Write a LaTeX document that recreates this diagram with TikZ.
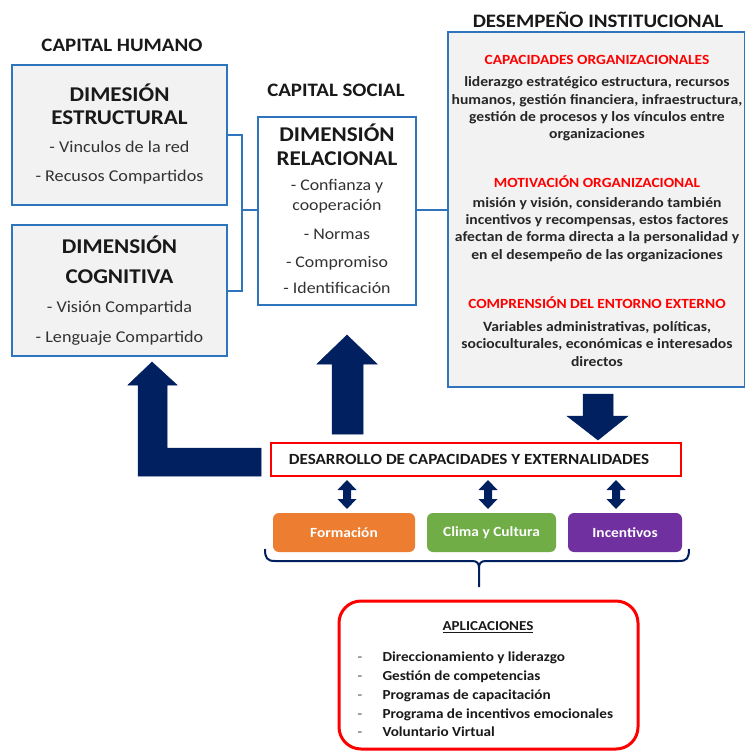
\documentclass[tikz,border=0pt]{standalone}
\usepackage{fontspec}
\setmainfont{Carlito}[FakeStretch=1.1]
\definecolor{blueline}{RGB}{46,117,190}
\definecolor{greyfill}{RGB}{242,242,242}
\definecolor{navy}{RGB}{0,32,96}
\definecolor{redline}{RGB}{255,0,0}
\definecolor{orangebox}{RGB}{237,125,49}
\definecolor{greenbox}{RGB}{112,173,71}
\definecolor{purplebox}{RGB}{112,48,160}
\definecolor{bodytext}{RGB}{50,50,50}
\begin{document}
\begin{tikzpicture}[x=1pt,y=-1pt,
  bluebox/.style={draw=blueline,line width=2pt,fill=greyfill,inner sep=0pt},
  title/.style={font=\fontsize{19}{22}\selectfont\bfseries,text=black!90},
  head/.style={font=\fontsize{21}{23}\selectfont\bfseries,align=center,text=black!90},
  bodyl/.style={font=\fontsize{16.5}{29}\selectfont,align=center,text=bodytext},
  redhead/.style={font=\fontsize{14}{16}\selectfont\bfseries,text=redline},
  desbody/.style={font=\fontsize{14.2}{17.3}\selectfont\bfseries,align=center,text=black!85},
  conn/.style={draw=blueline,line width=2pt},
  bigarrow/.style={fill=navy,draw=navy,line width=0.5pt},
  colbox/.style={rounded corners=6pt,inner sep=0pt,text=white,font=\fontsize{14}{16}\selectfont\bfseries},
  applist/.style={font=\fontsize{13.8}{18.8}\selectfont\bfseries,align=left,text=black!90}
]
\useasboundingbox (0,0) rectangle (744,751);
\fill[white] (0,0) rectangle (744,751);

% titles
\node[title] (tch) at (122,45) {CAPITAL HUMANO};
\node[title] (tcs) at (336,90) {CAPITAL SOCIAL};
\node[title] (tdi) at (598,20) {DESEMPEÑO INSTITUCIONAL};

% capital humano boxes
\node[bluebox,minimum width=215pt,minimum height=140pt] (est) at (119.5,135) {};
\node[head] (estH) at (119.5,104.5) {DIMESIÓN\\ESTRUCTURAL};
\node[bodyl] (estB) at (119.5,162.5) {- Vinculos de la red\\- Recusos Compartidos};

\node[bluebox,minimum width=215pt,minimum height=131pt] (cog) at (119.5,290.5) {};
\node[head,font=\fontsize{21}{30}\selectfont\bfseries] (cogH) at (119.5,260) {DIMENSIÓN\\COGNITIVA};
\node[bodyl,font=\fontsize{16.5}{30}\selectfont] (cogB) at (119.5,323) {- Visión Compartida\\- Lenguaje Compartido};

% capital social box
\node[bluebox,fill=white,minimum width=158pt,minimum height=188pt] (rel) at (337,211) {};
\node[head,font=\fontsize{21}{24}\selectfont\bfseries] (relH) at (337,145) {DIMENSIÓN\\RELACIONAL};
\node[bodyl,font=\fontsize{16.2}{20}\selectfont] (relB) at (337,236.5) {- Confianza y\\cooperación\\[9pt]- Normas\\[8pt]- Compromiso\\[6pt]- Identificación};

% desempeño box
\node[bluebox,minimum width=297pt,minimum height=355pt] (des) at (596.5,209.5) {};
\node[redhead] (dh1) at (597,60) {CAPACIDADES ORGANIZACIONALES};
\node[desbody] (db1) at (597,109) {liderazgo estratégico estructura, recursos\\humanos, gestión financiera, infraestructura,\\gestión de procesos y los vínculos entre\\organizaciones};
\node[redhead] (dh2) at (597,182) {MOTIVACIÓN ORGANIZACIONAL};
\node[desbody] (db2) at (597,229.5) {misión y visión, considerando también\\incentivos y recompensas, estos factores\\afectan de forma directa a la personalidad y\\en el desempeño de las organizaciones};
\node[redhead] (dh3) at (597,303) {COMPRENSIÓN DEL ENTORNO EXTERNO};
\node[desbody] (db3) at (597,344) {Variables administrativas, políticas,\\socioculturales, económicas e interesados\\directos};

% connectors
\coordinate (j) at (242,210);
\draw[conn] (est.east) -| (j) |- (cog.east);
\draw[conn] (j) -- (j -| rel.west);
\draw[conn] (rel.east |- j) -- (j -| des.west);

% desarrollo box
\node[draw=redline,line width=2.5pt,fill=white,minimum width=410pt,minimum height=33pt,inner sep=0pt,
  font=\fontsize{15.5}{17}\selectfont\bfseries,text=black!90] (dev) at (476,459.5) {\hspace*{-14pt}DESARROLLO DE CAPACIDADES Y EXTERNALIDADES};

% big arrows
\draw[bigarrow] (261,448) -- (167,448) -- (167,385) -- (177,385) -- (152,362) -- (128,385) -- (138,385) -- (138,476) -- (261,476) -- cycle;
\draw[bigarrow] (332,434) -- (332,364) -- (317,364) -- (347,335) -- (377,364) -- (363,364) -- (363,434) -- cycle;
\draw[bigarrow] (583,394) -- (613,394) -- (613,416) -- (628,416) -- (598,440) -- (567,416) -- (583,416) -- cycle;

% coloured boxes
\node[colbox,fill=orangebox,minimum width=142pt,minimum height=39pt] (for) at (344,532.5) {Formación};
\node[colbox,fill=greenbox,minimum width=129pt,minimum height=39pt] (cli) at (491.5,532.5) {Clima y Cultura};
\node[colbox,fill=purplebox,minimum width=114pt,minimum height=39pt] (inc) at (625,532.5) {Incentivos};

% double arrows
\foreach \c in {347,488,616}{
  \fill[navy] (\c,480) -- (\c+9.5,490) -- (\c+4,490) -- (\c+4,499) -- (\c+9.5,499) -- (\c,509)
    -- (\c-9.5,499) -- (\c-4,499) -- (\c-4,490) -- (\c-9.5,490) -- cycle;
}

% brace
\coordinate (bl) at (265,549);
\coordinate (br) at (689,549);
\coordinate (bt) at (479,587);
\draw[navy,line width=2pt] (bl) .. controls (265,558) and (267,561) .. (275,561) -- (472,561)
  .. controls (477,561) and (479,563) .. (479,568) -- (bt);
\draw[navy,line width=2pt] (479,568) .. controls (479,563) and (481,561) .. (486,561) -- (679,561)
  .. controls (687,561) and (689,558) .. (br);

% aplicaciones
\node[draw=redline,line width=3pt,fill=white,rounded corners=22pt,minimum width=299pt,minimum height=148pt,inner sep=0pt] (apl) at (488.5,675) {};
\node[font=\fontsize{13.7}{16}\selectfont\bfseries,text=black!90] (aplT) at (488,627) {\underline{APLICACIONES}};
\node[applist,anchor=west] (aplL) at (354,694.5) {%
\makebox[25pt][l]{\textcolor{gray}{-}}Direccionamiento y liderazgo\\
\makebox[25pt][l]{\textcolor{gray}{-}}Gestión de competencias\\
\makebox[25pt][l]{\textcolor{gray}{-}}Programas de capacitación\\
\makebox[25pt][l]{\textcolor{gray}{-}}Programa de incentivos emocionales\\
\makebox[25pt][l]{\textcolor{gray}{-}}Voluntario Virtual};
\end{tikzpicture}
\end{document}
